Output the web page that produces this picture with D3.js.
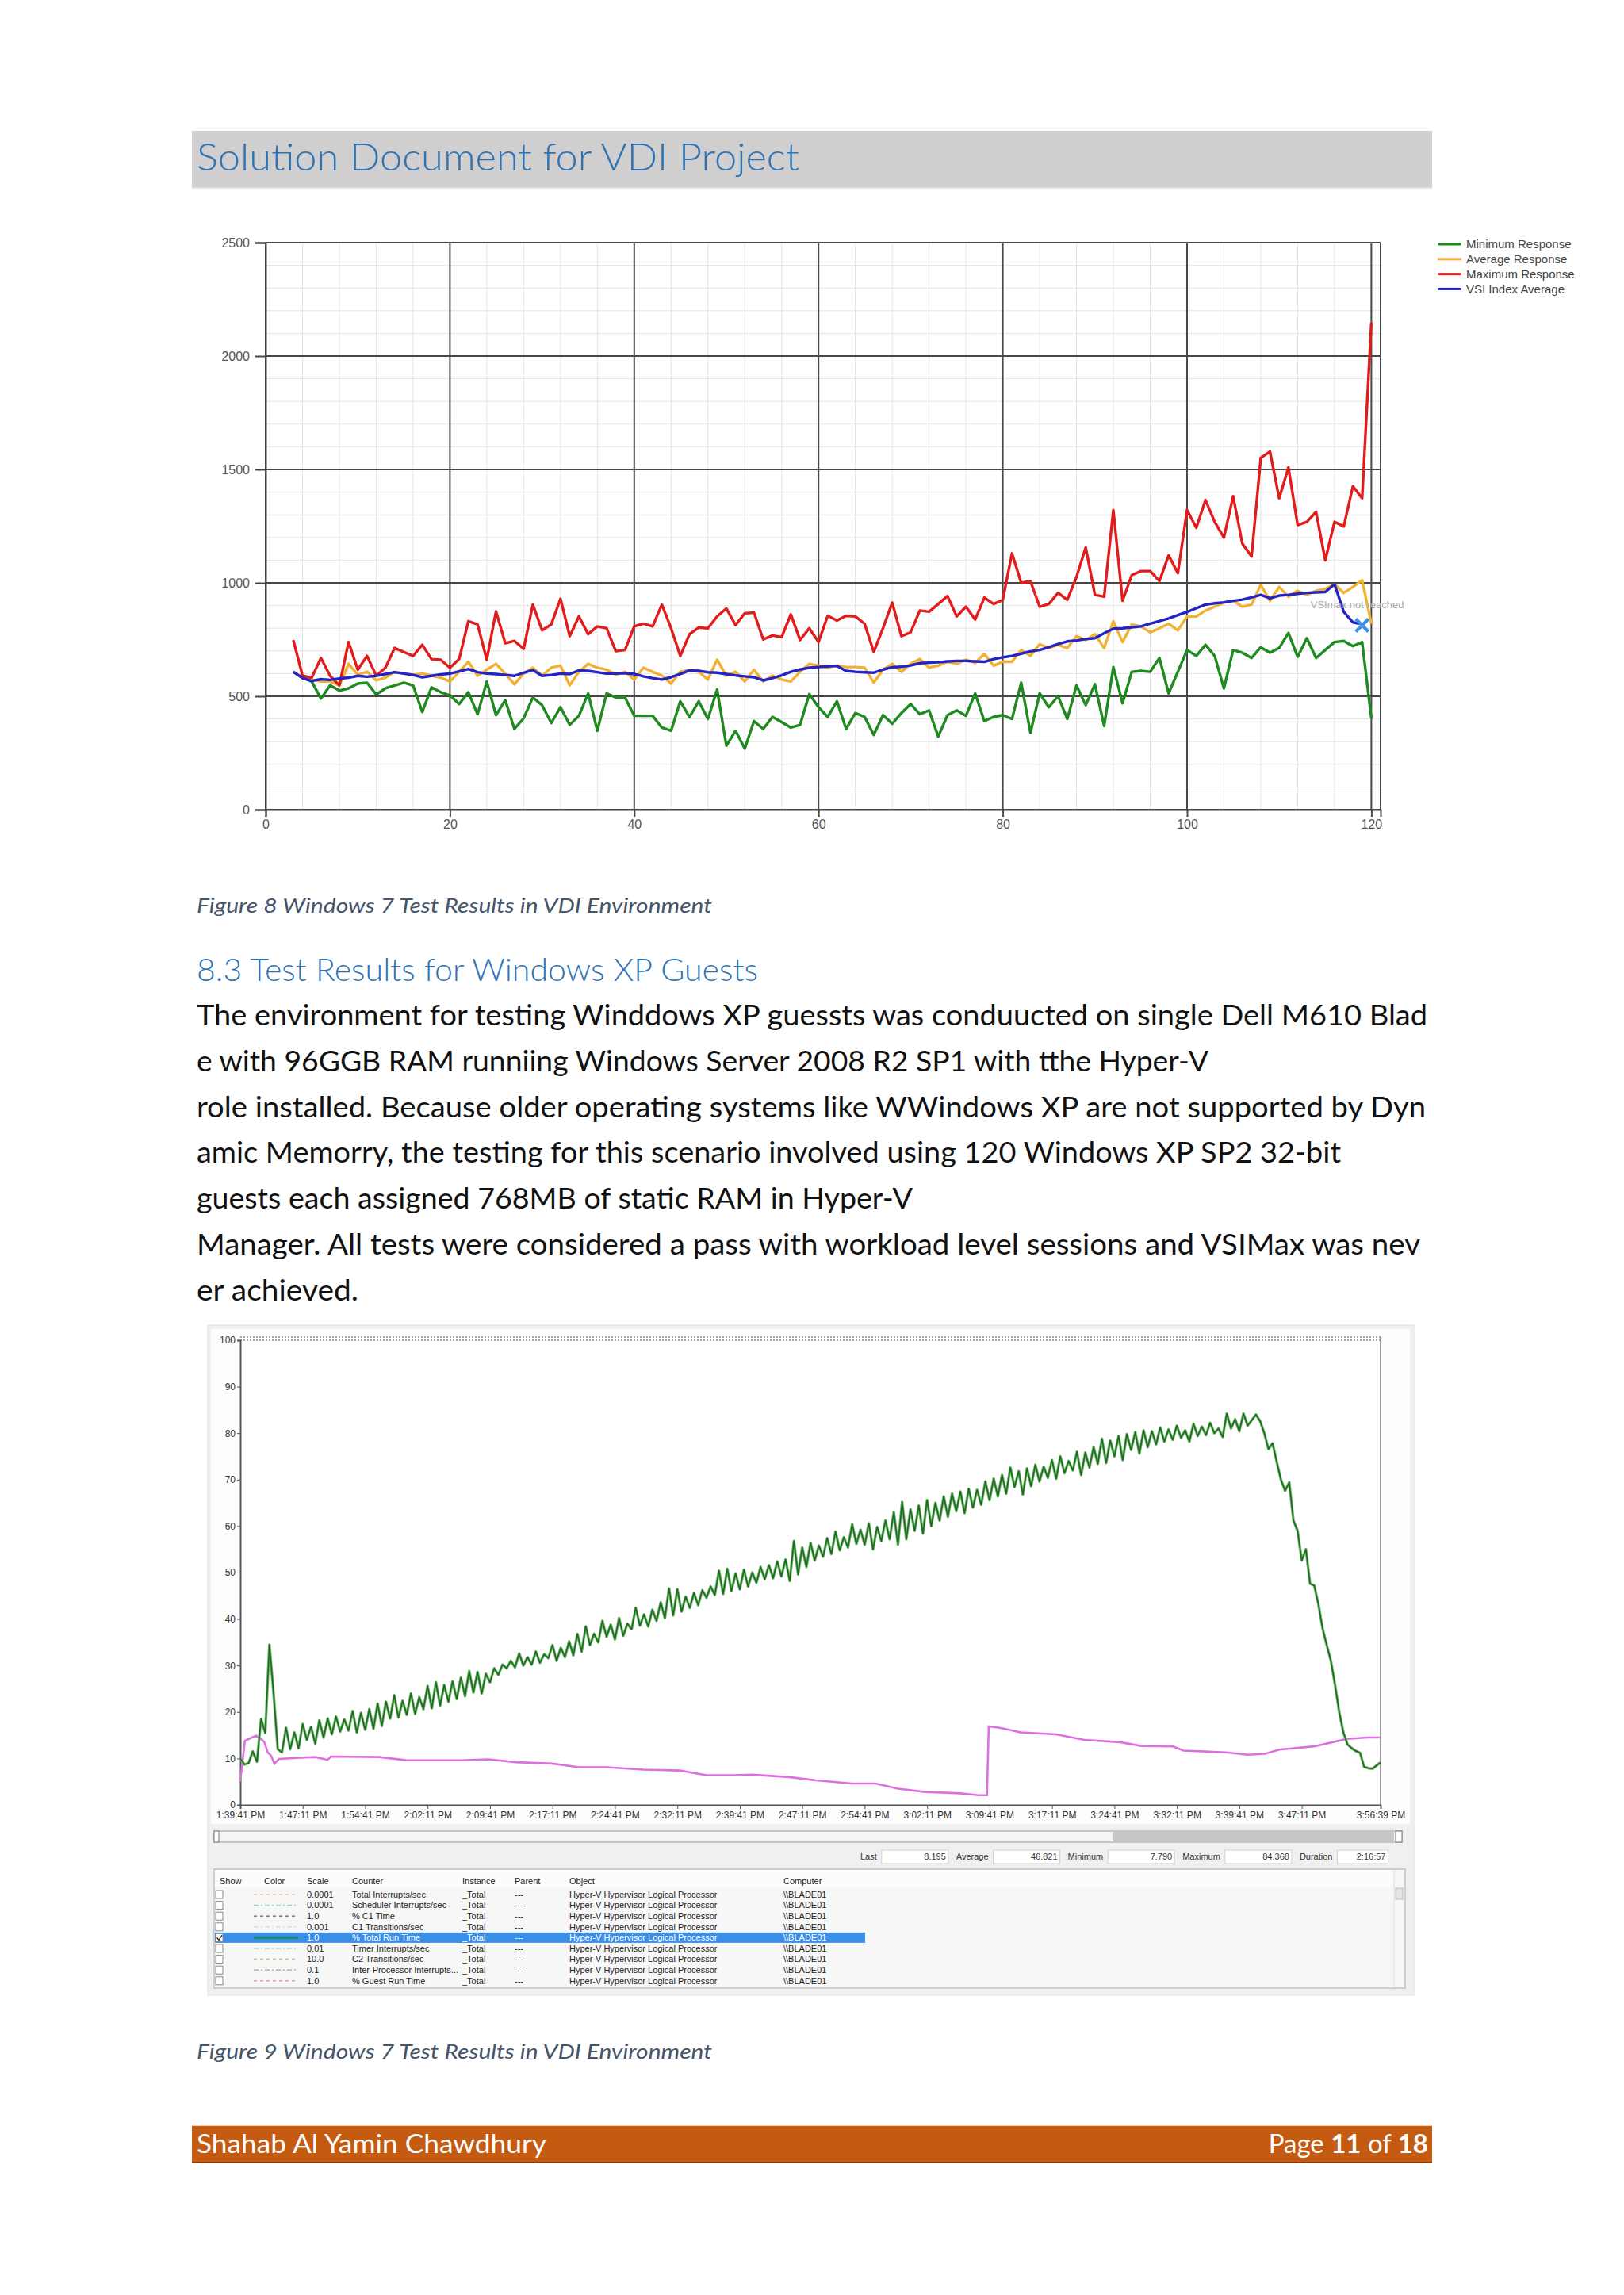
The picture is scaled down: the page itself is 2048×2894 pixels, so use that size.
<!DOCTYPE html>
<html lang="en">
<head>
<meta charset="UTF-8">
<title>Solution Document for VDI Project - page 11</title>
<style>
  body { margin: 0; background: #fff; }
  svg text { font-family: Lato, "Open Sans", sans-serif; }
  .title { fill: #2e74b5; font-size: 47px; font-weight: 300; }
  .caption { fill: #44546a; font-size: 25px; font-style: italic; }
  .heading { fill: #2e74b5; font-size: 40px; font-weight: 300; }
  .body { fill: #111; font-size: 37px; }
  .footer { fill: #fff; font-size: 33px; }
  .minor { stroke: #e4e4e4; stroke-width: 1; }
  .major { stroke: #474747; stroke-width: 2; }
  .c1 text { font-family: "Liberation Sans", Arial, sans-serif; font-size: 16px; fill: #555; }
  .c1 .legend text { font-size: 15px; fill: #444; }
  .pm text { font-family: "Liberation Sans Narrow", "Liberation Sans", Arial, sans-serif; font-size: 12px; fill: #333; }
  .pm .tbl text { font-size: 11px; fill: #222; }
</style>
<script src="https://cdn.jsdelivr.net/npm/d3@7"></script>
</head>
<body>
<svg id="page" width="2048" height="2894"></svg>
<script>
// ---------- figure 8 : Login VSI results ----------
const sessions = d3.range(3, 121);
const minResponse = [
  608, 582, 565, 490, 548, 525, 535, 556, 560, 508,
  535, 548, 560, 548, 431, 539, 518, 504, 466, 518,
  421, 565, 417, 483, 356, 403, 495, 461, 382, 452,
  374, 414, 513, 348, 513, 495, 495, 414, 414, 414,
  362, 348, 478, 409, 478, 400, 530, 282, 348, 269,
  391, 356, 409, 386, 362, 374, 510, 452, 409, 478,
  356, 426, 409, 330, 417, 379, 426, 466, 421, 438,
  322, 417, 438, 414, 513, 391, 409, 417, 400, 560,
  339, 513, 452, 501, 400, 548, 461, 553, 369, 629,
  469, 608, 612, 608, 669, 513, 608, 704, 678, 727,
  678, 535, 704, 692, 669, 716, 692, 713, 779, 674,
  756, 669, 704, 739, 744, 721, 739, 403];
const avgResponse = [
  608, 582, 574, 565, 565, 548, 643, 595, 608, 570,
  582, 608, 600, 595, 600, 591, 582, 565, 608, 652,
  591, 617, 643, 600, 553, 600, 626, 591, 626, 635,
  548, 608, 643, 626, 617, 595, 608, 574, 626, 608,
  591, 556, 608, 617, 608, 574, 661, 591, 608, 565,
  617, 565, 591, 574, 565, 608, 643, 635, 626, 635,
  629, 629, 626, 560, 617, 643, 608, 643, 664, 626,
  635, 652, 643, 661, 647, 687, 635, 652, 652, 704,
  678, 730, 713, 727, 713, 765, 748, 774, 713, 831,
  739, 817, 808, 782, 800, 820, 791, 852, 852, 878,
  895, 913, 921, 895, 904, 991, 921, 982, 939, 965,
  947, 965, 973, 994, 956, 982, 1012, 820];
const maxResponse = [
  748, 591, 582, 669, 590, 548, 739, 617, 678, 591,
  626, 713, 695, 678, 727, 664, 661, 626, 664, 831,
  817, 661, 874, 734, 744, 709, 904, 791, 817, 930,
  765, 852, 774, 808, 800, 699, 704, 808, 820, 808,
  904, 800, 678, 774, 803, 800, 852, 887, 814, 866,
  869, 751, 768, 761, 861, 748, 800, 739, 855, 834,
  855, 852, 820, 695, 800, 913, 765, 782, 878, 873,
  907, 942, 852, 895, 838, 935, 907, 925, 1130, 1000,
  1008, 895, 907, 956, 925, 1026, 1156, 947, 939, 1321,
  921, 1034, 1052, 1052, 1008, 1121, 1043, 1321, 1243, 1365,
  1269, 1200, 1382, 1173, 1116, 1551, 1579, 1373, 1509, 1255,
  1269, 1313, 1099, 1269, 1248, 1426, 1373, 2147];
const vsiIndexAvg = [
  608, 580, 568, 575, 572, 578, 582, 590, 586, 590,
  598, 606, 600, 594, 584, 590, 596, 600, 610, 620,
  606, 600, 598, 594, 590, 604, 616, 590, 594, 600,
  598, 614, 612, 606, 600, 600, 602, 598, 588, 580,
  574, 584, 598, 614, 612, 606, 604, 598, 592, 588,
  584, 570, 580, 592, 608, 618, 626, 629, 632, 634,
  612, 608, 606, 604, 618, 628, 630, 636, 646, 648,
  650, 654, 656, 656, 654, 652, 664, 672, 678, 688,
  698, 704, 716, 730, 742, 746, 752, 756, 778, 798,
  800, 804, 808, 820, 832, 843, 858, 872, 888, 904,
  910, 914, 921, 926, 936, 947, 932, 944, 947, 952,
  956, 958, 960, 994, 873, 826, 818];
const vsiMaxMark = [119, 813];
const yTicks1 = [0, 500, 1000, 1500, 2000, 2500];
const xTicks1 = [0, 20, 40, 60, 80, 100, 120];
const seriesNames = ['Minimum Response', 'Average Response', 'Maximum Response', 'VSI Index Average'];
const seriesColors = ['#1f8a1f', '#f2b132', '#e21b1b', '#2323c6'];

// ---------- figure 9 : perfmon ----------
const timeLabels = ['1:39:41 PM', '1:47:11 PM', '1:54:41 PM', '2:02:11 PM', '2:09:41 PM', '2:17:11 PM',
  '2:24:41 PM', '2:32:11 PM', '2:39:41 PM', '2:47:11 PM', '2:54:41 PM', '3:02:11 PM', '3:09:41 PM',
  '3:17:11 PM', '3:24:41 PM', '3:32:11 PM', '3:39:41 PM', '3:47:11 PM', '3:56:39 PM'];
const yTicks2 = [0, 10, 20, 30, 40, 50, 60, 70, 80, 90, 100];
const sampleSeconds = 30;
const totalRunTime = [
  10, 8.7, 9.0, 11.5, 9.3, 18.5, 15.5, 34.5, 24, 12,
  11.3, 16.6, 12.0, 15.6, 12.2, 17.4, 14.0, 16.8, 13.2, 18.2,
  14.5, 18.6, 15.2, 19.0, 15.8, 18.4, 16.0, 20.2, 15.6, 19.8,
  16.2, 20.6, 16.4, 21.8, 17.0, 22.2, 18.6, 23.6, 18.8, 22.4,
  19.4, 24.0, 19.6, 23.2, 20.6, 25.6, 20.8, 26.4, 21.4, 25.8,
  22.2, 26.6, 22.8, 27.4, 23.4, 28.8, 24.2, 28.6, 24.0, 28.2,
  26.4, 29.4, 28.0, 30.2, 29.4, 31.0, 29.6, 32.6, 30.0, 31.8,
  30.2, 33.0, 30.6, 32.4, 31.6, 34.4, 31.0, 33.8, 31.8, 35.2,
  32.2, 36.8, 33.0, 38.4, 34.4, 36.8, 35.0, 39.6, 36.2, 38.8,
  35.6, 40.2, 36.4, 39.0, 37.8, 42.4, 38.6, 41.0, 38.4, 42.0,
  39.6, 43.6, 40.2, 46.6, 40.8, 46.4, 41.6, 44.8, 42.4, 45.6,
  43.0, 46.2, 44.6, 47.0, 45.2, 50.4, 45.4, 50.8, 46.0, 49.8,
  46.4, 50.6, 47.0, 50.0, 47.8, 51.2, 48.6, 51.6, 48.8, 52.4,
  49.2, 52.8, 48.2, 56.8, 49.6, 55.4, 51.2, 56.4, 52.6, 55.8,
  53.4, 57.4, 54.0, 58.8, 54.8, 57.6, 55.4, 60.4, 56.2, 59.2,
  56.0, 60.6, 55.0, 59.8, 56.8, 61.2, 57.2, 63.0, 56.0, 65.2,
  57.2, 63.6, 59.0, 64.4, 58.4, 65.6, 60.0, 65.0, 61.2, 66.4,
  62.0, 67.0, 63.2, 67.4, 62.8, 68.0, 64.0, 67.8, 64.6, 69.6,
  65.6, 70.2, 66.4, 71.0, 67.0, 72.6, 68.4, 71.8, 66.8, 72.4,
  68.6, 73.2, 69.6, 72.8, 70.4, 74.2, 70.2, 75.0, 71.4, 74.0,
  72.0, 76.0, 71.0, 75.8, 72.6, 77.0, 73.4, 78.8, 73.6, 78.4,
  75.0, 79.4, 74.2, 79.8, 76.4, 80.2, 75.6, 80.6, 77.0, 80.4,
  77.6, 81.2, 78.2, 80.8, 78.6, 81.6, 79.0, 80.6, 78.2, 82.0,
  79.4, 81.4, 79.6, 82.2, 80.0, 81.0, 79.2, 84.2, 81.0, 83.0,
  80.4, 84.2, 81.6, 82.8, 84.0, 82.6, 80.0, 76.6, 77.8, 73.8,
  70.0, 67.6, 69.4, 61.2, 59.0, 52.6, 55.0, 47.6, 47.2, 43.2,
  38.0, 34.4, 31.0, 25.8, 20.0, 15.6, 13.0, 12.2, 11.6, 11.2,
  8.2, 7.9, 7.8, 8.5, 9.2];
const guestMinutes = [0, 0.55, 1.4, 1.9, 2.5, 2.9, 3.3, 3.7, 4.1, 4.65,
  6.8, 9.0, 10.5, 10.9, 16.7, 20.0, 26.5, 29.8, 33.1, 37.5,
  40.7, 44.0, 48.4, 52.8, 56.0, 59.3, 61.5, 65.9, 69.2, 73.5,
  76.3, 79.0, 82.3, 86.5, 88.7, 89.7, 89.9, 91.2, 93.8, 98.0,
  101.4, 105.7, 108.2, 112.0, 113.3, 118.4, 121.0, 123.1, 124.8, 129.0,
  131.2, 132.9, 135.4, 136.9];
const guestRunTime = [5.0, 13.8, 14.5, 14.9, 14.2, 13.5, 11.3, 10.6, 8.9, 9.9,
  10.1, 10.3, 9.7, 10.4, 10.3, 9.6, 9.6, 9.8, 9.2, 8.9,
  8.1, 8.1, 7.6, 7.4, 6.4, 6.4, 6.5, 6.0, 5.3, 4.6,
  4.6, 3.5, 2.8, 2.5, 2.1, 2.1, 16.9, 16.6, 15.6, 15.2,
  14.0, 13.5, 12.7, 12.6, 11.7, 11.3, 10.8, 11.0, 11.9, 12.6,
  13.5, 14.2, 14.5, 14.5];
const statLabels = ['Last', 'Average', 'Minimum', 'Maximum', 'Duration'];
const statValues = ['8.195', '46.821', '7.790', '84.368', '2:16:57'];
const tableHeads = ['Show', 'Color', 'Scale', 'Counter', 'Instance', 'Parent', 'Object', 'Computer'];
const counterNames = ['Total Interrupts/sec', 'Scheduler Interrupts/sec', '% C1 Time', 'C1 Transitions/sec',
  '% Total Run Time', 'Timer Interrupts/sec', 'C2 Transitions/sec', 'Inter-Processor Interrupts...', '% Guest Run Time'];
const counterScales = ['0.0001', '0.0001', '1.0', '0.001', '1.0', '0.01', '10.0', '0.1', '1.0'];
const counterColors = ['#f3c6a0', '#9fd3cf', '#6f7f70', '#e8dcc0', '#1a8a7a', '#a9d6c8', '#c9b08c', '#aab0cc', '#e39ab8'];
const selectedRow = 4;

// ---------- page text ----------
const docTitle = 'Solution Document for VDI Project';
const caption8 = 'Figure 8 Windows 7 Test Results in VDI Environment';
const caption9 = 'Figure 9 Windows 7 Test Results in VDI Environment';
const heading = '8.3 Test Results for Windows XP Guests';
const bodyLines = [
  ['The environment for testing Winddows XP guessts was conduucted on single Dell M610 Blad', 1552],
  ['e with 96GGB RAM runniing Windows Server 2008 R2 SP1 with tthe Hyper-V', 1276],
  ['role installed. Because older operating systems like WWindows XP are not supported by Dyn', 1550],
  ['amic Memorry, the testing for this scenario involved using 120 Windows XP SP2 32-bit', 1443],
  ['guests each assigned 768MB of static RAM in Hyper-V', 903],
  ['Manager. All tests were considered a pass with workload level sessions and VSIMax was nev', 1543],
  ['er achieved.', 204]
];

const svg = d3.select('#page');
svg.append('rect').attr('width', 2048).attr('height', 2894).attr('fill', '#fff');

// header band
svg.append('rect').attr('x', 242).attr('y', 165).attr('width', 1564).attr('height', 72).attr('fill', '#d0cece');
svg.append('line').attr('x1', 242).attr('x2', 1806).attr('y1', 237).attr('y2', 237).attr('stroke', '#e2e0e0').attr('stroke-width', 2);
svg.append('text').attr('class', 'title').attr('x', 248).attr('y', 215)
  .attr('textLength', 760).attr('lengthAdjust', 'spacingAndGlyphs').text(docTitle);

// ================= chart 1 =================
const g1 = svg.append('g').attr('class', 'c1');
const x1 = d3.scaleLinear().domain([0, 121]).range([335, 1741]);
const y1 = d3.scaleLinear().domain([0, 2500]).range([1021, 306]);

g1.selectAll('.vminor').data(d3.range(4, 121, 4)).join('line').attr('class', 'minor')
  .attr('x1', d => x1(d)).attr('x2', d => x1(d)).attr('y1', y1(2500)).attr('y2', y1(0));
g1.selectAll('.hminor').data(d3.range(100, 2500, 100)).join('line').attr('class', 'minor')
  .attr('x1', x1(0)).attr('x2', x1(121)).attr('y1', d => y1(d)).attr('y2', d => y1(d));

g1.append('g').selectAll('line').data(yTicks1).join('line').attr('class', 'major')
  .attr('x1', x1(0)).attr('x2', x1(121)).attr('y1', d => y1(d)).attr('y2', d => y1(d));
g1.append('g').selectAll('line').data(xTicks1).join('line').attr('class', 'major')
  .attr('x1', d => x1(d)).attr('x2', d => x1(d)).attr('y1', y1(2500)).attr('y2', y1(0));
g1.append('line').attr('class', 'major').attr('x1', x1(121)).attr('x2', x1(121)).attr('y1', y1(2500)).attr('y2', y1(0));

const ax1 = g1.append('g').attr('transform', `translate(${x1(0)},0)`)
  .call(d3.axisLeft(y1).tickValues(yTicks1).tickFormat(d3.format('d')).tickSize(13).tickPadding(7));
const bx1 = g1.append('g').attr('transform', `translate(0,${y1(0)})`)
  .call(d3.axisBottom(x1).tickValues(xTicks1).tickFormat(d3.format('d')).tickSize(9).tickPadding(4));
[ax1, bx1].forEach(a => {
  a.select('.domain').attr('stroke', '#474747').attr('stroke-width', 2);
  a.selectAll('.tick line').attr('stroke', '#474747').attr('stroke-width', 2);
  a.selectAll('.tick text').attr('fill', '#555');
});

const line1 = d3.line().x(d => x1(d[0])).y(d => y1(d[1]));
const series1 = [minResponse, avgResponse, maxResponse, vsiIndexAvg];
series1.forEach((vals, k) => {
  g1.append('path')
    .datum(vals.map((v, i) => [sessions[i], v]))
    .attr('d', line1).attr('fill', 'none')
    .attr('stroke', seriesColors[k]).attr('stroke-width', 3.4)
    .attr('stroke-linejoin', 'round');
});

// VSImax marker
const mx = x1(vsiMaxMark[0]), my = y1(vsiMaxMark[1]);
g1.append('path').attr('d', `M${mx - 8},${my - 8}L${mx + 8},${my + 8}M${mx - 8},${my + 8}L${mx + 8},${my - 8}`)
  .attr('stroke', '#3d8ee6').attr('stroke-width', 4);
g1.append('text').attr('x', mx - 65).attr('y', my - 21)
  .style('font-size', '13px').style('fill', '#aaa').text('VSImax not reached');

// legend
const lg = g1.append('g').attr('class', 'legend');
lg.selectAll('line').data(seriesNames).join('line')
  .attr('x1', 1813).attr('x2', 1843).attr('y1', (d, i) => 308 + i * 18.8).attr('y2', (d, i) => 308 + i * 18.8)
  .attr('stroke', (d, i) => seriesColors[i]).attr('stroke-width', 3);
lg.selectAll('text').data(seriesNames).join('text')
  .attr('x', 1849).attr('y', (d, i) => 308 + i * 18.8).attr('dy', '0.35em').text(d => d);

// ================= text block =================
svg.append('text').attr('class', 'caption').attr('x', 248).attr('y', 1151)
  .attr('textLength', 650).attr('lengthAdjust', 'spacingAndGlyphs').text(caption8);
svg.append('text').attr('class', 'heading').attr('x', 248).attr('y', 1237)
  .attr('textLength', 708).attr('lengthAdjust', 'spacingAndGlyphs').text(heading);
svg.selectAll('.body').data(bodyLines).join('text').attr('class', 'body')
  .attr('x', 248).attr('y', (d, i) => 1293 + i * 57.8)
  .attr('textLength', d => d[1]).attr('lengthAdjust', 'spacingAndGlyphs').text(d => d[0]);

// ================= chart 2 (perfmon) =================
const g2 = svg.append('g').attr('class', 'pm');
g2.append('rect').attr('x', 262).attr('y', 1671).attr('width', 1521).attr('height', 845)
  .attr('fill', '#f0f0f0').attr('stroke', '#e0e0e0');
g2.append('rect').attr('x', 266).attr('y', 1676).attr('width', 1512).attr('height', 624).attr('fill', '#fdfdfd');

const parseT = d3.timeParse('%I:%M:%S %p');
const tickTimes = timeLabels.map(parseT);
const t0 = tickTimes[0];
const x2 = d3.scaleTime().domain([t0, tickTimes[tickTimes.length - 1]]).range([303, 1741]);
const y2 = d3.scaleLinear().domain([0, 100]).range([2276, 1690]);

g2.append('rect').attr('x', 303).attr('y', 1690).attr('width', 1438).attr('height', 586).attr('fill', '#fff');
g2.append('line').attr('x1', 303).attr('x2', 1741).attr('y1', 1686).attr('y2', 1686)
  .attr('stroke', '#888').attr('stroke-width', 1.5).attr('stroke-dasharray', '2,2');
g2.append('line').attr('x1', 303).attr('x2', 1741).attr('y1', 1690).attr('y2', 1690)
  .attr('stroke', '#888').attr('stroke-width', 1.5).attr('stroke-dasharray', '2,2');
g2.append('line').attr('x1', 1741).attr('x2', 1741).attr('y1', 1686).attr('y2', 2276)
  .attr('stroke', '#999').attr('stroke-width', 2);

const ax2 = g2.append('g').attr('transform', 'translate(303,0)')
  .call(d3.axisLeft(y2).tickValues(yTicks2).tickSize(4).tickPadding(2));
const bx2 = g2.append('g').attr('transform', 'translate(0,2276)')
  .call(d3.axisBottom(x2).tickValues(tickTimes).tickFormat((d, i) => timeLabels[i]).tickSize(5).tickPadding(3));
[ax2, bx2].forEach(a => {
  a.select('.domain').attr('stroke', '#555').attr('stroke-width', 2);
  a.selectAll('.tick line').attr('stroke', '#555');
  a.selectAll('.tick text').attr('fill', '#333').style('font-size', '12px');
});

g2.append('clipPath').attr('id', 'pmclip').append('rect')
  .attr('x', 303).attr('y', 1690).attr('width', 1438).attr('height', 586);
const line2 = d3.line().x(d => x2(d[0])).y(d => y2(d[1]));
const guestPts = guestMinutes.map((m, i) => [d3.timeSecond.offset(t0, Math.round(m * 60)), guestRunTime[i]]);
const totalPts = totalRunTime.map((v, i) => [d3.timeSecond.offset(t0, i * sampleSeconds), v]);
g2.append('path').datum(guestPts).attr('d', line2).attr('clip-path', 'url(#pmclip)')
  .attr('fill', 'none').attr('stroke', '#dd6fdf').attr('stroke-width', 2.6);
g2.append('path').datum(totalPts).attr('d', line2).attr('clip-path', 'url(#pmclip)')
  .attr('fill', 'none').attr('stroke', '#70b870').attr('stroke-width', 3.4).attr('stroke-linejoin', 'round');
g2.append('path').datum(totalPts).attr('d', line2).attr('clip-path', 'url(#pmclip)')
  .attr('fill', 'none').attr('stroke', '#1d6a1d').attr('stroke-width', 1.6).attr('stroke-linejoin', 'round');

// scrollbar
g2.append('rect').attr('x', 270).attr('y', 2309).attr('width', 1498).attr('height', 14)
  .attr('fill', '#f4f4f4').attr('stroke', '#9a9a9a');
g2.append('rect').attr('x', 1404).attr('y', 2309).attr('width', 354).attr('height', 14).attr('fill', '#c6c6c6');
g2.append('rect').attr('x', 270).attr('y', 2309).attr('width', 6).attr('height', 14).attr('fill', '#fff').attr('stroke', '#777');
g2.append('rect').attr('x', 1760).attr('y', 2309).attr('width', 8).attr('height', 14).attr('fill', '#fff').attr('stroke', '#777');

// stats row
let sx = 1085;
statLabels.forEach((lab, i) => {
  const t = g2.append('text').attr('x', sx).attr('y', 2341).attr('dy', '0.35em').style('font-size', '11px').text(lab);
  const w = t.node().getComputedTextLength();
  const bw = i === statLabels.length - 1 ? 64 : 84;
  const bxl = sx + w + 6;
  g2.append('rect').attr('x', bxl).attr('y', 2333).attr('width', bw).attr('height', 17)
    .attr('fill', '#fff').attr('stroke', '#d0d0d0');
  g2.append('text').attr('x', bxl + bw - 3).attr('y', 2341).attr('dy', '0.35em').attr('text-anchor', 'end')
    .style('font-size', '11px').text(statValues[i]);
  sx = bxl + bw + 10;
});

// counter table
const tb = g2.append('g').attr('class', 'tbl');
tb.append('rect').attr('x', 270).attr('y', 2357).attr('width', 1502).attr('height', 150)
  .attr('fill', '#f7f7f8').attr('stroke', '#a8a8a8');
tb.append('rect').attr('x', 271).attr('y', 2358).attr('width', 1486).attr('height', 22).attr('fill', '#fcfcfc');
tb.append('line').attr('x1', 1758).attr('x2', 1758).attr('y1', 2358).attr('y2', 2506).attr('stroke', '#ddd');
tb.append('rect').attr('x', 1760).attr('y', 2381).attr('width', 9).attr('height', 14).attr('fill', '#e4e4e4').attr('stroke', '#bbb');
const colX = [277, 333, 387, 444, 583, 649, 718, 988];
tb.selectAll('.hd').data(tableHeads).join('text').attr('class', 'hd')
  .attr('x', (d, i) => colX[i]).attr('y', 2372).attr('dy', '0.35em').text(d => d);
const rowY = i => 2389 + i * 13.6;
tb.append('rect').attr('x', 271).attr('y', rowY(selectedRow) - 6.5).attr('width', 820).attr('height', 13)
  .attr('fill', '#3a8ee6');
counterNames.forEach((name, i) => {
  const sel = i === selectedRow;
  const fill = sel ? '#fff' : '#222';
  const y = rowY(i);
  tb.append('rect').attr('x', 272).attr('y', y - 5).attr('width', 9).attr('height', 10)
    .attr('fill', '#fff').attr('stroke', '#888');
  if (sel) {
    tb.append('path').attr('d', `M273.5,${y}L276,${y + 3}L280,${y - 3}`).attr('fill', 'none').attr('stroke', '#222').attr('stroke-width', 1.3);
  }
  tb.append('line').attr('x1', 320).attr('x2', 376).attr('y1', y).attr('y2', y)
    .attr('stroke', counterColors[i]).attr('stroke-width', sel ? 3 : 1.6)
    .attr('stroke-dasharray', sel ? null : (i % 2 ? '6,3,2,3' : '4,4'));
  const cells = ['', '', counterScales[i], name, '_Total', '---', 'Hyper-V Hypervisor Logical Processor', '\\\\BLADE01'];
  cells.forEach((c, j) => {
    if (c) tb.append('text').attr('x', colX[j]).attr('y', y).attr('dy', '0.35em').style('fill', fill).text(c);
  });
});

svg.append('text').attr('class', 'caption').attr('x', 248).attr('y', 2596)
  .attr('textLength', 650).attr('lengthAdjust', 'spacingAndGlyphs').text(caption9);

// footer band
svg.append('rect').attr('x', 242).attr('y', 2681).attr('width', 1564).attr('height', 46).attr('fill', '#c55a11');
svg.append('line').attr('x1', 242).attr('x2', 1806).attr('y1', 2680).attr('y2', 2680).attr('stroke', '#f6d3b4').attr('stroke-width', 2);
svg.append('line').attr('x1', 242).attr('x2', 1806).attr('y1', 2727).attr('y2', 2727).attr('stroke', '#843c0c').attr('stroke-width', 2);
svg.append('text').attr('class', 'footer').attr('x', 248).attr('y', 2715)
  .attr('textLength', 441).attr('lengthAdjust', 'spacingAndGlyphs').text('Shahab Al Yamin Chawdhury');
const pg = svg.append('text').attr('class', 'footer').attr('x', 1801).attr('y', 2715).attr('text-anchor', 'end');
pg.append('tspan').text('Page ');
pg.append('tspan').attr('font-weight', 'bold').text('11');
pg.append('tspan').text(' of ');
pg.append('tspan').attr('font-weight', 'bold').text('18');
</script>
</body>
</html>
